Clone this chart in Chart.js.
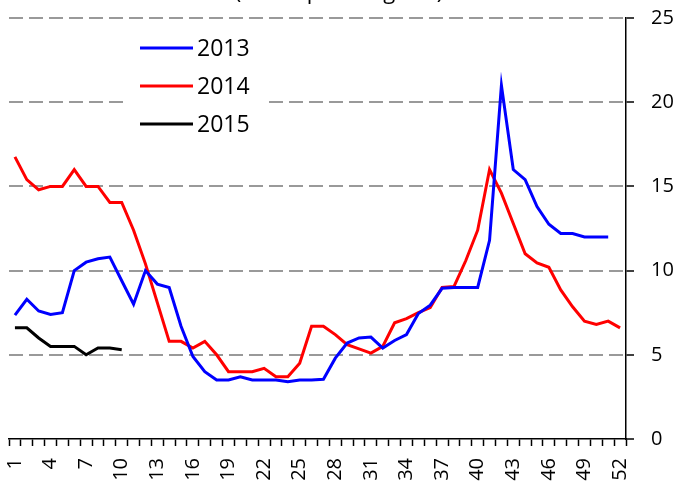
<!DOCTYPE html>
<html>
<head>
<meta charset="utf-8">
<script src="https://cdn.jsdelivr.net/npm/chart.js@4.4.1/dist/chart.umd.min.js"></script>
<style>
  html, body { margin: 0; padding: 0; background: #fff; }
  canvas { display: block; }
</style>
</head>
<body>
<canvas id="chart" width="678" height="485"></canvas>
<script>
// Weekly price, pesos per kilogram
const WEEKS = [
  "1", "2", "3", "4", "5", "6", "7", "8", "9", "10",
  "11", "12", "13", "14", "15", "16", "17", "18", "19", "20",
  "21", "22", "23", "24", "25", "26", "27", "28", "29", "30",
  "31", "32", "33", "34", "35", "36", "37", "38", "39", "40",
  "41", "42", "43", "44", "45", "46", "47", "48", "49", "50",
  "51", "52",
];
const XTICK_LABELS = ["1", "4", "7", "10", "13", "16", "19", "22", "25", "28",
  "31", "34", "37", "40", "43", "46", "49", "52"];
const YTICKS = [0, 5, 10, 15, 20, 25];

const SERIES_NAMES = ["2013", "2014", "2015"];
const SERIES_COLORS = ["#0000ff", "#ff0000", "#000000"];

const PRICES_2013 = [
  7.36, 8.3, 7.6, 7.4, 7.5, 10.0, 10.5, 10.7, 10.8, 9.4,
  8.0, 10.0, 9.2, 9.0, 6.7, 4.9, 4.0, 3.5, 3.5, 3.7,
  3.5, 3.5, 3.5, 3.4, 3.5, 3.5, 3.55, 4.8, 5.7, 6.0,
  6.05, 5.4, 5.85, 6.2, 7.45, 7.95, 8.95, 9.0, 9.0, 9.0,
  11.8, 21.0, 16.0, 15.4, 13.8, 12.75, 12.2, 12.2, 12.0, 12.0,
  12.0, null,
];
const PRICES_2014 = [
  16.75, 15.4, 14.8, 15.0, 15.0, 16.0, 15.0, 15.0, 14.05, 14.05,
  12.4, 10.4, 8.1, 5.8, 5.8, 5.4, 5.8, 5.0, 4.0, 4.0,
  4.0, 4.2, 3.7, 3.7, 4.5, 6.7, 6.7, 6.2, 5.6, 5.35,
  5.1, 5.5, 6.9, 7.15, 7.5, 7.8, 9.0, 9.05, 10.6, 12.4,
  16.0, 14.6, 12.8, 11.0, 10.45, 10.2, 8.85, 7.85, 7.0, 6.8,
  7.0, 6.6,
];
const PRICES_2015 = [6.6, 6.6, 6.0, 5.5, 5.5, 5.5, 5.0, 5.4, 5.4, 5.3];

const TITLE = "(Pesos per kilogram)";
const FONT = "'Open Sans', 'Liberation Sans', sans-serif";

// title sits mostly above the canvas, only its lower edge shows
const titlePlugin = {
  id: "cutTitle",
  afterDraw(chart) {
    const c = chart.ctx;
    c.save();
    c.font = "22px " + FONT;
    c.fillStyle = "#000";
    c.textAlign = "center";
    c.textBaseline = "alphabetic";
    c.fillText(TITLE, 339, -1);
    c.restore();
  },
};

// legend boxed inside the plot, white behind it
const boxLegend = {
  id: "boxLegend",
  afterDatasetsDraw(chart) {
    const c = chart.ctx;
    c.save();
    c.fillStyle = "#fff";
    c.fillRect(125, 30, 142, 110);
    chart.data.datasets.forEach((ds, i) => {
      const y = 48 + i * 38;
      c.strokeStyle = ds.borderColor;
      c.lineWidth = 3;
      c.beginPath();
      c.moveTo(140, y);
      c.lineTo(193, y);
      c.stroke();
      c.fillStyle = "#000";
      c.font = "23px " + FONT;
      c.textBaseline = "middle";
      c.fillText(ds.label, 197, y + 1);
    });
    c.restore();
  },
};

const seriesData = [PRICES_2013, PRICES_2014, PRICES_2015];

new Chart(document.getElementById("chart"), {
  type: "line",
  data: {
    labels: WEEKS,
    datasets: SERIES_NAMES.map((name, i) => ({
      label: name,
      data: seriesData[i],
      borderColor: SERIES_COLORS[i],
      backgroundColor: SERIES_COLORS[i],
      borderWidth: 3,
      pointRadius: 0,
      tension: 0,
      fill: false,
    })),
  },
  options: {
    responsive: false,
    animation: false,
    devicePixelRatio: 1,
    layout: { padding: { left: 9, top: 18, right: 0, bottom: 0 } },
    plugins: {
      legend: { display: false },
      tooltip: { enabled: false },
    },
    scales: {
      x: {
        type: "category",
        offset: true,
        grid: {
          offset: true,
          drawOnChartArea: false,
          drawTicks: true,
          tickLength: 7,
          tickColor: "#000",
          tickWidth: 1.5,
        },
        border: { display: true, color: "#000", width: 1.5 },
        ticks: {
          autoSkip: false,
          maxRotation: 90,
          minRotation: 90,
          padding: 12,
          color: "#000",
          font: { family: FONT, size: 20 },
          callback(value) {
            const label = this.getLabelForValue(value);
            return XTICK_LABELS.includes(label) ? label : "";
          },
        },
        afterFit(scale) { scale.height = 46; },
      },
      y: {
        position: "right",
        min: YTICKS[0],
        max: YTICKS[YTICKS.length - 1],
        afterBuildTicks(scale) { scale.ticks = YTICKS.map((v) => ({ value: v })); },
        grid: {
          color: (ctx) => (ctx.tick && ctx.tick.value === 0 ? "rgba(0,0,0,0)" : "#999999"),
          lineWidth: 2,
          drawTicks: true,
          tickLength: 8,
          tickColor: "#000",
          tickWidth: 1.5,
          tickBorderDash: [],
        },
        border: { display: true, color: "#000", width: 1.5, dash: [14, 6] },
        ticks: {
          padding: 17,
          color: "#000",
          font: { family: FONT, size: 20 },
        },
        afterFit(scale) {
          scale.width = 52;
          scale.paddingTop = 0;
          scale.paddingBottom = 0;
        },
      },
    },
  },
  plugins: [titlePlugin, boxLegend],
});
</script>
</body>
</html>
